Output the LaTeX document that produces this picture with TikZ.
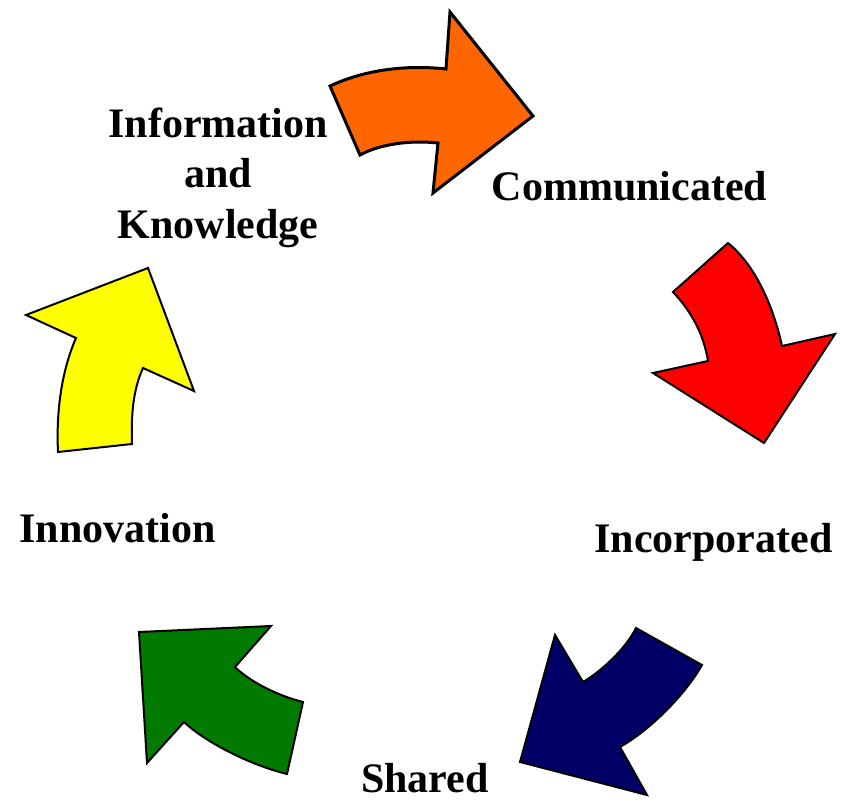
\documentclass[tikz,border=0pt]{standalone}
\usepackage{fontspec}
\setmainfont{Liberation Serif}
\definecolor{arrOrange}{HTML}{FF6600}
\definecolor{arrRed}{HTML}{FF0000}
\definecolor{arrNavy}{HTML}{000066}
\definecolor{arrGreen}{HTML}{007A00}
\definecolor{arrYellow}{HTML}{FFFF00}
\begin{document}
\begin{tikzpicture}[x=1pt,y=-1pt,
  arrowshape/.style={draw=black,line width=2pt,line join=miter},
  lbl/.style={font=\bfseries\fontsize{42}{50.5}\selectfont,inner sep=0pt,anchor=base,align=center}]
\useasboundingbox (0,0) rectangle (852,803);
% orange
\draw[arrowshape,line width=3pt,fill=arrOrange] (330,86) .. controls (360,72) and (400,64) .. (446,69)
  -- (450,12) -- (533,116) -- (433,193) -- (438,143)
  .. controls (410,140) and (380,144) .. (360,155) -- cycle;
% red
\draw[arrowshape,fill=arrRed] (728,243) -- (673,292)
  .. controls (688,308) and (703,330) .. (708,361)
  -- (653,373) -- (764,443) -- (835,334) -- (782,346)
  .. controls (773,305) and (755,265) .. (728,243) -- cycle;
% navy
\draw[arrowshape,fill=arrNavy] (636,628) -- (702,665)
  .. controls (685,695) and (650,730) .. (620,747)
  -- (647,795) -- (520,762) -- (555,635) -- (583,682)
  .. controls (600,672) and (625,650) .. (636,628) -- cycle;
% green
\draw[arrowshape,fill=arrGreen] (271,626) -- (139,632) -- (147,763) -- (184,722)
  .. controls (205,742) and (250,765) .. (287,774)
  -- (303,702)
  .. controls (275,695) and (248,680) .. (235,667) -- cycle;
% yellow
\draw[arrowshape,fill=arrYellow] (148,268) -- (26,315) -- (76,338)
  .. controls (62,370) and (56,410) .. (58,452)
  -- (132,444)
  .. controls (131,415) and (133,390) .. (143,368)
  -- (194,391) -- cycle;
% labels
\node[lbl] (info) at (218,238) {Information\\and\\Knowledge};
\node[lbl] (comm) at (629.5,200) {Communicated};
\node[lbl] (inco) at (713.5,552) {Incorporated};
\node[lbl] (shar) at (425,792.5) {Shared};
\node[lbl] (inno) at (117.5,542.5) {Innovation};
\end{tikzpicture}
\end{document}
